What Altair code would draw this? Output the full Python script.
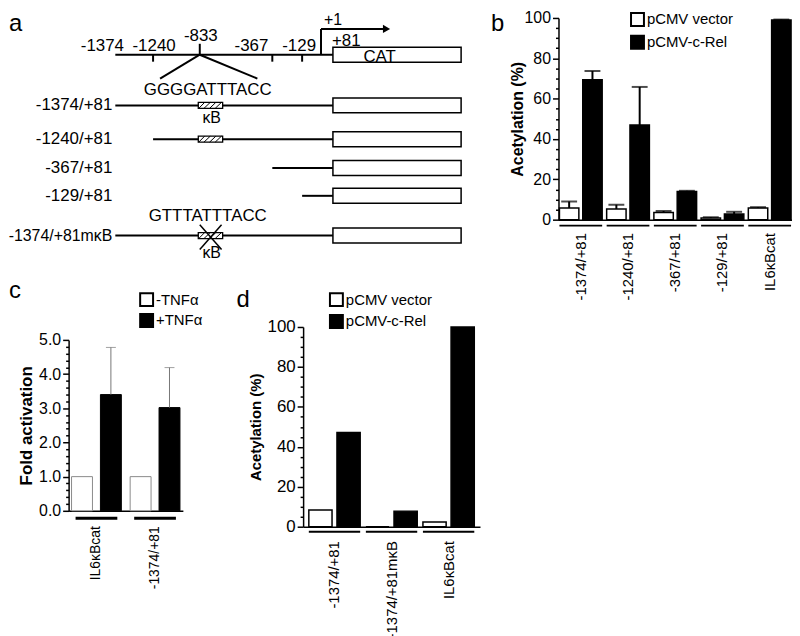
import altair as alt
import pandas as pd

FONT = "Liberation Sans"

# ---------------- panel a : schematic of the promoter constructs ----------------
site_pos = [-1374, -1240, -833, -367, -129, 1, 81]
site_text = ["-1374", "-1240", "-833", "-367", "-129", "+1", "+81"]
construct_names = ["-1374/+81", "-1240/+81", "-367/+81", "-129/+81", "-1374/+81mκB"]
construct_start = [-1374, -1240, -367, -129, -1374]
construct_kb = [1, 1, 0, 0, 1]
kb_site = -833
seq_wt = "GGGGATTTACC"
seq_mut = "GTTTATTTACC"
cat_end = 741

# ---------------- panel b ----------------
b_cats = ["-1374/+81", "-1240/+81", "-367/+81", "-129/+81", "IL6κBcat"]
b_series = ["pCMV vector", "pCMV-c-Rel"]
b_vec = [5.8, 5.3, 3.6, 0.8, 5.8]
b_vec_up = [9.0, 7.4, 4.3, 1.2, 6.2]
b_rel = [69.4, 46.9, 14.0, 2.8, 99.0]
b_rel_up = [73.7, 65.8, 14.3, 3.9, 99.2]

# ---------------- panel c ----------------
c_cats = ["IL6κBcat", "-1374/+81"]
c_series = ["-TNFα", "+TNFα"]
c_minus = [1.0, 1.0]
c_plus = [3.40, 3.02]
c_plus_up = [4.78, 4.19]

# ---------------- panel d ----------------
d_cats = ["-1374/+81", "-1374/+81mκB", "IL6κBcat"]
d_series = ["pCMV vector", "pCMV-c-Rel"]
d_vec = [8.4, 0.0, 2.3]
d_rel = [47.2, 7.8, 100.0]

# ======================= layout / style =======================
A_H = 317
a_xrange = [107, 145, 192, 265, 295, 314, 326, 455]
axis_row = 43
row_y = [94, 128, 157, 185, 225]
row_font = [17, 17, 17, 17, 16]
arrow_y = 17
arrow_end = 357
kb_from, kb_to = -846, -686
hatch_start = [-842, -806, -770, -734]
hatch_w = 40

XS = alt.Scale(domain=site_pos + [cat_end], range=a_xrange, nice=False, zero=False)
YS = alt.Scale(domain=[0, A_H], range=[0, A_H], nice=False, zero=False)


def ax(f):
    return alt.X(f, type="quantitative", scale=XS, axis=None)


def ay(f):
    return alt.Y(f, type="quantitative", scale=YS, axis=None)


segs = [(-1374, axis_row, 81, axis_row)]
for p in [-1240, -367, -129]:
    segs.append((p, axis_row, p, axis_row + 7))
segs.append((kb_site, axis_row - 11, kb_site, axis_row))
segs.append((1, axis_row, 1, arrow_y))
segs.append((1, arrow_y, arrow_end, arrow_y))
segs.append((kb_site, axis_row, -1179, 67))
segs.append((kb_site, axis_row, -463, 67))
for s, y in zip(construct_start, row_y):
    segs.append((s, y, 81, y))
seg_df = pd.DataFrame(segs, columns=["x", "y", "x2", "y2"])

thin = []
for has, y in zip(construct_kb, row_y):
    if has:
        for h in hatch_start:
            thin.append((h, y + 3, h + hatch_w, y - 3))
thin_df = pd.DataFrame(thin, columns=["x", "y", "x2", "y2"])

cross_y = row_y[4]
cross_df = pd.DataFrame([(-833, cross_y - 11, -693, cross_y + 14),
                         (-693, cross_y - 11, -833, cross_y + 14)],
                        columns=["x", "y", "x2", "y2"])

cat_rows = [axis_row] + row_y
cat_df = pd.DataFrame({"x": [81] * len(cat_rows), "x2": [cat_end] * len(cat_rows),
                       "y": [r - 7.5 for r in cat_rows], "y2": [r + 7.5 for r in cat_rows]})
kb_rows = [y for has, y in zip(construct_kb, row_y) if has]
kb_df = pd.DataFrame({"x": [kb_from] * len(kb_rows), "x2": [kb_to] * len(kb_rows),
                      "y": [r - 3 for r in kb_rows], "y2": [r + 3 for r in kb_rows]})

a_layers = []
a_layers.append(alt.Chart(seg_df).mark_rule(color="black", strokeWidth=2).encode(
    x=ax("x"), y=ay("y"), x2="x2", y2="y2"))
a_layers.append(alt.Chart(pd.DataFrame({"x": [arrow_end], "y": [arrow_y]})).mark_point(
    shape="triangle-right", filled=True, color="black", size=70, opacity=1).encode(x=ax("x"), y=ay("y")))
a_layers.append(alt.Chart(cat_df).mark_rect(fill="white", stroke="black", strokeWidth=1.5).encode(
    x=ax("x"), x2="x2", y=ay("y"), y2="y2"))
a_layers.append(alt.Chart(kb_df).mark_rect(fill="white", stroke="black", strokeWidth=1.3).encode(
    x=ax("x"), x2="x2", y=ay("y"), y2="y2"))
a_layers.append(alt.Chart(thin_df).mark_rule(color="black", strokeWidth=1).encode(
    x=ax("x"), y=ay("y"), x2="x2", y2="y2"))
a_layers.append(alt.Chart(cross_df).mark_rule(color="black", strokeWidth=1.5).encode(
    x=ax("x"), y=ay("y"), x2="x2", y2="y2"))

for name, y, fs in zip(construct_names, row_y, row_font):
    a_layers.append(alt.Chart(pd.DataFrame({"t": [name], "x": [construct_start[0]], "y": [y]}))
                    .mark_text(font=FONT, fontSize=fs, align="right", baseline="middle", dx=-3,
                               color="black")
                    .encode(x=ax("x"), y=ay("y"), text="t:N"))

top_specs = [(site_text[0], site_pos[0], -13, 39, "center"),
             (site_text[1], site_pos[1], 1, 39, "center"),
             (site_text[2], site_pos[2], 1, 29, "center"),
             (site_text[3], site_pos[3], -21, 39, "center"),
             (site_text[4], site_pos[4], -3, 39, "center"),
             (site_text[5], site_pos[5], 3, 13, "left"),
             (site_text[6], site_pos[6], -1, 34, "left")]
for t, p, dx, yb_, al in top_specs:
    a_layers.append(alt.Chart(pd.DataFrame({"t": [t], "x": [p], "y": [yb_]}))
                    .mark_text(font=FONT, fontSize=17 if t != "+1" else 16, align=al, dx=dx,
                               baseline="alphabetic", color="black")
                    .encode(x=ax("x"), y=ay("y"), text="t:N"))

a_layers.append(alt.Chart(pd.DataFrame({"t": [seq_wt, seq_mut], "x": [kb_site, kb_site], "y": [84, 210]}))
                .mark_text(font=FONT, fontSize=17, align="center", dx=8, baseline="alphabetic", color="black")
                .encode(x=ax("x"), y=ay("y"), text="t:N"))
a_layers.append(alt.Chart(pd.DataFrame({"t": ["κB", "κB"], "x": [kb_site, kb_site], "y": [112, 248]}))
                .mark_text(font=FONT, fontSize=16, align="center", dx=12, baseline="alphabetic", color="black")
                .encode(x=ax("x"), y=ay("y"), text="t:N"))
a_layers.append(alt.Chart(pd.DataFrame({"t": ["CAT"], "x": [81], "y": [50]}))
                .mark_text(font=FONT, fontSize=17, align="center", dx=47, baseline="alphabetic", color="black")
                .encode(x=ax("x"), y=ay("y"), text="t:N"))
a_layers.append(alt.Chart(pd.DataFrame({"t": ["a"]})).mark_text(
    font=FONT, fontSize=24, align="left", baseline="alphabetic", color="black").encode(
    x=alt.value(0), y=alt.value(19), text="t:N"))

# panel a's drawing overflows its (small) declared cell on purpose
panel_a = alt.layer(*a_layers).properties(width=60, height=A_H)


# ======================= helpers for bar panels =======================
def yaxis(values, test, title, tsize, tx, ty, lsize, fmt=None):
    kw = dict(values=values, labelExpr=f"({test}) ? datum.label : ''",
              tickSize={"condition": {"test": test, "value": 6}, "value": 3},
              tickWidth=1.5, domainWidth=1.5, labelFontSize=lsize, labelPadding=2,
              title=title, titleFontSize=tsize, titleX=tx, titleY=ty,
              titleBaseline="middle", titleAlign="center", titleAngle=270, grid=False)
    if fmt:
        kw["format"] = fmt
    return alt.Axis(**kw)


def xaxis(lsize, lpad):
    return alt.Axis(title=None, labelAngle=-90, ticks=False, labelPadding=lpad,
                    labelFontSize=lsize, domainWidth=1.5, grid=False)


def legend(lx, ly, rowpad):
    return alt.Legend(title=None, orient="none", legendX=lx, legendY=ly, symbolType="square",
                      symbolSize=169, symbolStrokeColor="black", symbolStrokeWidth=2,
                      labelFontSize=15, labelOffset=2, rowPadding=rowpad, padding=0)


def tag(letter, x, y):
    return alt.Chart(pd.DataFrame({"t": [letter]})).mark_text(
        font=FONT, fontSize=24, align="left", baseline="alphabetic", color="black").encode(
        x=alt.value(x), y=alt.value(y), text="t:N")


# ---------------- panel b ----------------
B_W, B_H, B_TOP = 235, 209, 6
b_df = pd.DataFrame({"construct": b_cats * 2,
                     "series": [b_series[0]] * 5 + [b_series[1]] * 5,
                     "value": b_vec + b_rel, "upper": b_vec_up + b_rel_up})
xb = alt.X("construct:N", sort=b_cats, scale=alt.Scale(paddingInner=0.095, paddingOuter=0.02),
           axis=xaxis(15, 13))
xob = alt.XOffset("series:N", sort=b_series, scale=alt.Scale(paddingInner=0.167, paddingOuter=0))
ysb = alt.Scale(domain=[0, 100], nice=False, range=[B_H, B_TOP])
yab = yaxis(list(range(0, 101, 5)), "datum.value % 20 === 0", "Acetylation (%)", 16, -41,
            (B_H + B_TOP) / 2, 16)
fb = alt.Fill("series:N", sort=b_series, scale=alt.Scale(domain=b_series, range=["white", "black"]),
              legend=legend(72, 0, 2))
bars_b = alt.Chart(b_df).mark_bar(stroke="black", strokeWidth=1.5).encode(
    x=xb, xOffset=xob, y=alt.Y("value:Q", scale=ysb, axis=yab), fill=fb)
err_b = alt.Chart(b_df).mark_rule(color="black", strokeWidth=2).encode(
    x=xb, xOffset=xob, y=alt.Y("value:Q", scale=ysb, axis=yab), y2="upper:Q")
cap_b = alt.Chart(b_df).mark_tick(color="black", thickness=2, size=16).encode(
    x=xb, xOffset=xob, y=alt.Y("upper:Q", scale=ysb, axis=yab))
line_b = alt.Chart(pd.DataFrame({"construct": b_cats})).mark_bar(color="black").encode(
    x=xb, y=alt.value(B_H + 5), y2=alt.value(B_H + 7))
panel_b = alt.layer(bars_b, err_b, cap_b, line_b, tag("b", -68, 19)).properties(width=B_W, height=B_H)

# ---------------- panel c ----------------
C_W, C_H, C_TOP = 115, 185, 13
c_df = pd.DataFrame({"construct": c_cats * 2,
                     "series": [c_series[0]] * 2 + [c_series[1]] * 2,
                     "value": c_minus + c_plus})
c_err = pd.DataFrame({"construct": c_cats, "series": [c_series[1]] * 2,
                      "value": c_plus, "upper": c_plus_up})
xc = alt.X("construct:N", sort=c_cats, scale=alt.Scale(paddingInner=0.15, paddingOuter=0.05),
           axis=xaxis(14, 15))
xoc = alt.XOffset("series:N", sort=c_series, scale=alt.Scale(paddingInner=0.276, paddingOuter=0))
ysc = alt.Scale(domain=[0, 5], nice=False, range=[C_H, C_TOP])
yac = yaxis([i / 5 for i in range(26)], "abs(datum.value - round(datum.value)) < 0.001",
            "Fold activation", 17, -42, (C_H + C_TOP) / 2, 16, fmt=".1f")
fc = alt.Fill("series:N", sort=c_series, scale=alt.Scale(domain=c_series, range=["white", "black"]),
              legend=legend(71, -35, 0))
bars_c = alt.Chart(c_df).mark_bar(strokeWidth=1).encode(
    x=xc, xOffset=xoc, y=alt.Y("value:Q", scale=ysc, axis=yac), fill=fc,
    stroke=alt.condition(f"datum.series == '{c_series[0]}'", alt.value("#8a8a8a"), alt.value("black")))
err_c = alt.Chart(c_err).mark_rule(color="#777777", strokeWidth=1).encode(
    x=xc, xOffset=xoc, y=alt.Y("value:Q", scale=ysc, axis=yac), y2="upper:Q")
cap_c = alt.Chart(c_err).mark_tick(color="#777777", thickness=1, size=10).encode(
    x=xc, xOffset=xoc, y=alt.Y("upper:Q", scale=ysc, axis=yac))
line_c = alt.Chart(pd.DataFrame({"construct": c_cats})).mark_bar(color="black", width=42).encode(
    x=xc, y=alt.value(C_H + 6), y2=alt.value(C_H + 9))
panel_c = alt.layer(bars_c, err_c, cap_c, line_c, tag("c", -60, -29)).properties(width=C_W, height=C_H)

# ---------------- panel d ----------------
D_W, D_H = 178, 201
d_df = pd.DataFrame({"construct": d_cats * 2,
                     "series": [d_series[0]] * 3 + [d_series[1]] * 3,
                     "value": d_vec + d_rel})
xd = alt.X("construct:N", sort=d_cats, scale=alt.Scale(paddingInner=0.1, paddingOuter=0.1),
           axis=xaxis(15, 14))
xod = alt.XOffset("series:N", sort=d_series, scale=alt.Scale(paddingInner=0.175, paddingOuter=0))
ysd = alt.Scale(domain=[0, 100], nice=False)
yad = yaxis(list(range(0, 101, 5)), "datum.value % 20 === 0", "Acetylation (%)", 15, -48, D_H / 2, 17)
fd = alt.Fill("series:N", sort=d_series, scale=alt.Scale(domain=d_series, range=["white", "black"]),
              legend=legend(26, -35, 1))
bars_d = alt.Chart(d_df).mark_bar(stroke="black", strokeWidth=1.5).encode(
    x=xd, xOffset=xod, y=alt.Y("value:Q", scale=ysd, axis=yad), fill=fd)
line_d = alt.Chart(pd.DataFrame({"construct": d_cats})).mark_bar(color="black").encode(
    x=xd, y=alt.value(D_H + 4), y2=alt.value(D_H + 6))
panel_d = alt.layer(bars_d, line_d, tag("d", -67, -20)).properties(width=D_W, height=D_H)


# ---------------- assembly: one flush grid ----------------
def spacer(w, h):
    return alt.Chart(pd.DataFrame({"z": [0]})).mark_rect(opacity=0).encode(
        x=alt.value(0), x2=alt.value(w), y=alt.value(0), y2=alt.value(h)).properties(width=w, height=h)


cells = [panel_a, spacer(115, 1), spacer(121, 1), spacer(178, 1), spacer(79, 1), panel_b,
         spacer(60, 1), panel_c, spacer(121, 1), panel_d]

chart = alt.concat(*cells, columns=6, spacing=0, bounds="flush", align="each").resolve_scale(
    x="independent", y="independent", xOffset="independent", fill="independent"
).resolve_legend(fill="independent").properties(
    padding=0
).configure_view(stroke=None).configure_axis(
    labelFont=FONT, titleFont=FONT, labelColor="black", titleColor="black",
    domainColor="black", tickColor="black"
).configure_legend(labelFont=FONT, labelColor="black").configure_concat(spacing=0)

chart.save("out.html", embed_options={"renderer": "svg", "actions": False})
